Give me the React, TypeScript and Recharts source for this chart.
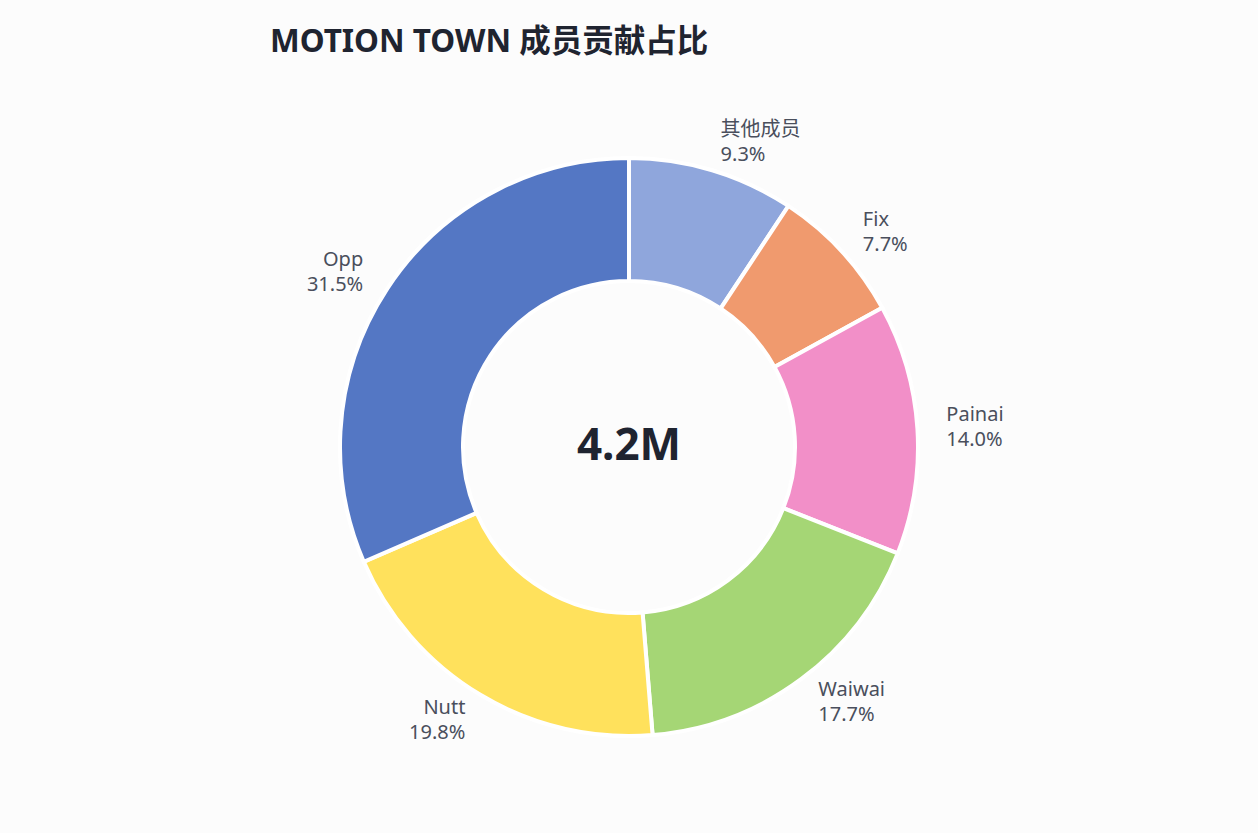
import React from 'react';
import { PieChart, Pie, Cell } from 'recharts';

const members = ['其他成员', 'Fix', 'Painai', 'Waiwai', 'Nutt', 'Opp'];
const shares = [9.3, 7.7, 14.0, 17.7, 19.8, 31.5];
const colors = ['#8fa6dc', '#f09a6e', '#f28fc8', '#a5d675', '#ffe15c', '#5477c4'];
const totalLabel = '4.2M';

const data = members.map((name, i) => ({ name, value: shares[i] }));

const RAD = Math.PI / 180;
const FONT = '"Noto Sans", "Noto Sans CJK SC", sans-serif';

const renderLabel = (props: any) => {
  const { cx, cy, midAngle, name, value } = props;
  const r = 318;
  const x = cx + r * Math.cos(-midAngle * RAD);
  const y = cy + r * Math.sin(-midAngle * RAD);
  const anchor = x >= cx ? 'start' : 'end';
  return (
    <text x={x} y={y} textAnchor={anchor} fill="#4a4f5c" fontSize={20} fontFamily={FONT}>
      <tspan x={x} dy={-6}>{name}</tspan>
      <tspan x={x} dy={25}>{value.toFixed(1)}%</tspan>
    </text>
  );
};

const App: React.FC = () => {
  return (
    <div style={{ position: 'absolute', left: 0, top: 0, width: 1258, height: 833, background: '#fcfcfc', fontFamily: FONT }}>
      <div style={{ position: 'absolute', left: 270, top: 15, fontSize: 31.5, fontWeight: 700, color: '#1f2430' }}>
        MOTION TOWN 成员贡献占比
      </div>
      <PieChart width={1258} height={833} margin={{ top: 0, right: 0, bottom: 0, left: 0 }}>
        <Pie
          data={data}
          dataKey="value"
          nameKey="name"
          cx={629}
          cy={447}
          innerRadius={166}
          outerRadius={289}
          startAngle={90}
          endAngle={-270}
          stroke="#ffffff"
          strokeWidth={4}
          label={renderLabel}
          labelLine={false}
          isAnimationActive={false}
        >
          {data.map((d, i) => (
            <Cell key={d.name} fill={colors[i]} />
          ))}
        </Pie>
        <text x={629} y={443} textAnchor="middle" dominantBaseline="central" fontSize={44} fontWeight={700} fill="#1f2430" fontFamily={FONT}>
          {totalLabel}
        </text>
      </PieChart>
    </div>
  );
};

export default App;
